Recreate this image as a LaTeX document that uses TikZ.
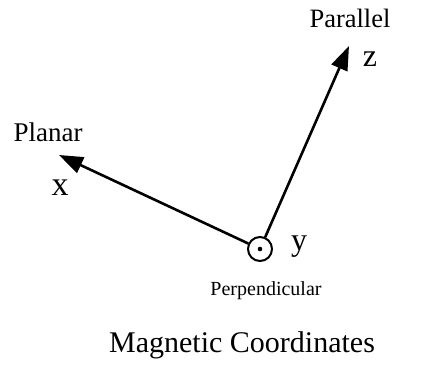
\documentclass[tikz,border=0pt]{standalone}
\usepackage{fontspec}
\setmainfont{Liberation Serif}
\usetikzlibrary{arrows.meta}
\tikzset{
  axis/.style={line width=2.6pt,-{Triangle[length=24pt,width=17pt]}},
  lbl/.style={inner sep=0pt,anchor=center},
}
\begin{document}
\begin{tikzpicture}[x=1pt,y=1pt]
\useasboundingbox (0,0) rectangle (422,383);
\node[circle,draw,line width=2pt,minimum size=24pt,inner sep=0pt] (o) at (260,134) {};
\fill (o.center) circle (2.3pt);
\coordinate (xt) at (59,228);
\coordinate (zt) at (349,337);
\draw[axis] (o) -- (xt);
\draw[axis] (o) -- (zt);
\node[lbl,font=\fontsize{27}{29}\selectfont] (planar) at (48,251) {Planar};
\node[lbl,font=\fontsize{34}{36}\selectfont] (xl) at (60,195) {x};
\node[lbl,font=\fontsize{26.5}{28}\selectfont] (parallel) at (350,365) {Parallel};
\node[lbl,font=\fontsize{32}{34}\selectfont] (zl) at (370,324) {z};
\node[lbl,font=\fontsize{32}{34}\selectfont] (yl) at (299,136) {y};
\node[lbl,font=\fontsize{20}{22}\selectfont] (perp) at (266,92) {Perpendicular};
\node[lbl,font=\fontsize{30}{32}\selectfont] (title) at (242,38) {Magnetic Coordinates};
\end{tikzpicture}
\end{document}
